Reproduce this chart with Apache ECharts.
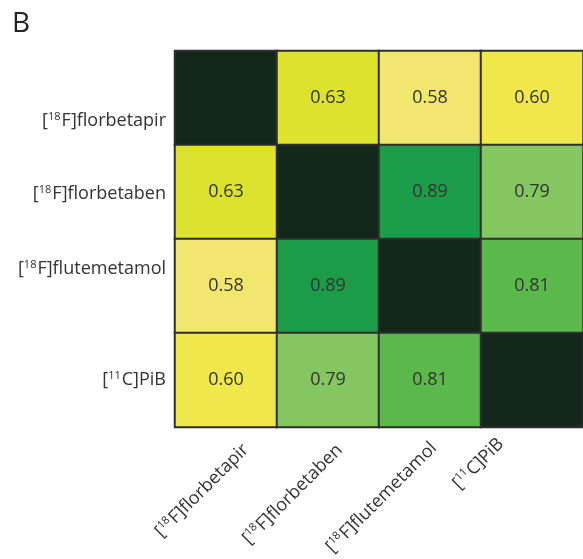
<!DOCTYPE html>
<html><head><meta charset="utf-8">
<script src="https://cdn.jsdelivr.net/npm/echarts@6/dist/echarts.min.js"></script>
<style>html,body{margin:0;padding:0;background:#fff}#c{width:583px;height:559px}</style>
</head><body><div id="c"></div>
<script>
// tracer labels: [superscript mass number, rest of name]
const tracers = [
  ['18', 'F]florbetapir'],
  ['18', 'F]florbetaben'],
  ['18', 'F]flutemetamol'],
  ['11', 'C]PiB']
];
// correlation matrix (row-major), diagonal = 1 (shown dark, no label)
const row0 = [1.00, 0.63, 0.58, 0.60];
const row1 = [0.63, 1.00, 0.89, 0.79];
const row2 = [0.58, 0.89, 1.00, 0.81];
const row3 = [0.60, 0.79, 0.81, 1.00];
const rows = [row0, row1, row2, row3];

const pieceValues = [0.58, 0.60, 0.63, 0.79, 0.81, 0.89, 1.00];
const pieceColors = ['#f1e66e', '#f0e84a', '#dce22e', '#84c65f', '#5ab94a', '#1c9b48', '#13271a'];

// label paddings (style only) reproducing the reference's label placement
const yLabelPad = [[46, 0, 0, 0], [4, 0, 0, 0], [0, 0, 34, 0], [0, 0, 0, 0]];
const xLabelPad = [[56, 0, 0, 0], [45, 6, 0, 0], [31, 10, 0, 0], [0, 32, 24, 0]];

const data = [];
rows.forEach((r, yi) => r.forEach((v, xi) => data.push([xi, yi, v])));

const font = '"Open Sans", "Noto Sans", sans-serif';
const rich = {
  b: {fontFamily: font, fontSize: 18, color: '#333', lineHeight: 24, verticalAlign: 'middle'},
  s: {fontFamily: font, fontSize: 11, color: '#333', lineHeight: 24, verticalAlign: 'middle', padding: [0, 1, 9, 0]}
};
function lab(i) {
  const t = tracers[+i];
  return '{b|[}{s|' + t[0] + '}{b|' + t[1] + '}';
}
const xCats = tracers.map((t, i) => ({value: String(i), textStyle: {padding: xLabelPad[i]}}));
const yCats = tracers.map((t, i) => ({value: String(i), textStyle: {padding: yLabelPad[i]}}));

const chart = echarts.init(document.getElementById('c'), null, {renderer: 'canvas'});
chart.setOption({
  animation: false,
  title: {text: 'B', left: 7, top: 5, textStyle: {fontFamily: font, fontSize: 28, fontWeight: 'normal', color: '#222'}},
  grid: {left: 175, top: 51, width: 413, height: 377, containLabel: false},
  xAxis: {
    type: 'category', data: xCats, position: 'bottom',
    axisLine: {show: false}, axisTick: {show: false}, splitLine: {show: false},
    axisLabel: {rotate: 45, margin: 0, formatter: lab, rich: rich, interval: 0}
  },
  yAxis: {
    type: 'category', data: yCats, inverse: true,
    axisLine: {show: false}, axisTick: {show: false}, splitLine: {show: false},
    axisLabel: {margin: 9, formatter: lab, rich: rich, interval: 0}
  },
  visualMap: {
    type: 'piecewise', show: false, dimension: 2,
    pieces: pieceValues.map((v, i) => ({value: v, color: pieceColors[i]}))
  },
  series: [{
    type: 'heatmap', data: data,
    itemStyle: {borderColor: '#2e2e2e', borderWidth: 2},
    label: {
      show: true, fontFamily: font, fontSize: 18, color: '#333',
      formatter: p => p.value[2] >= 1 ? '' : p.value[2].toFixed(2)
    },
    emphasis: {disabled: true}
  }]
});
</script></body></html>
